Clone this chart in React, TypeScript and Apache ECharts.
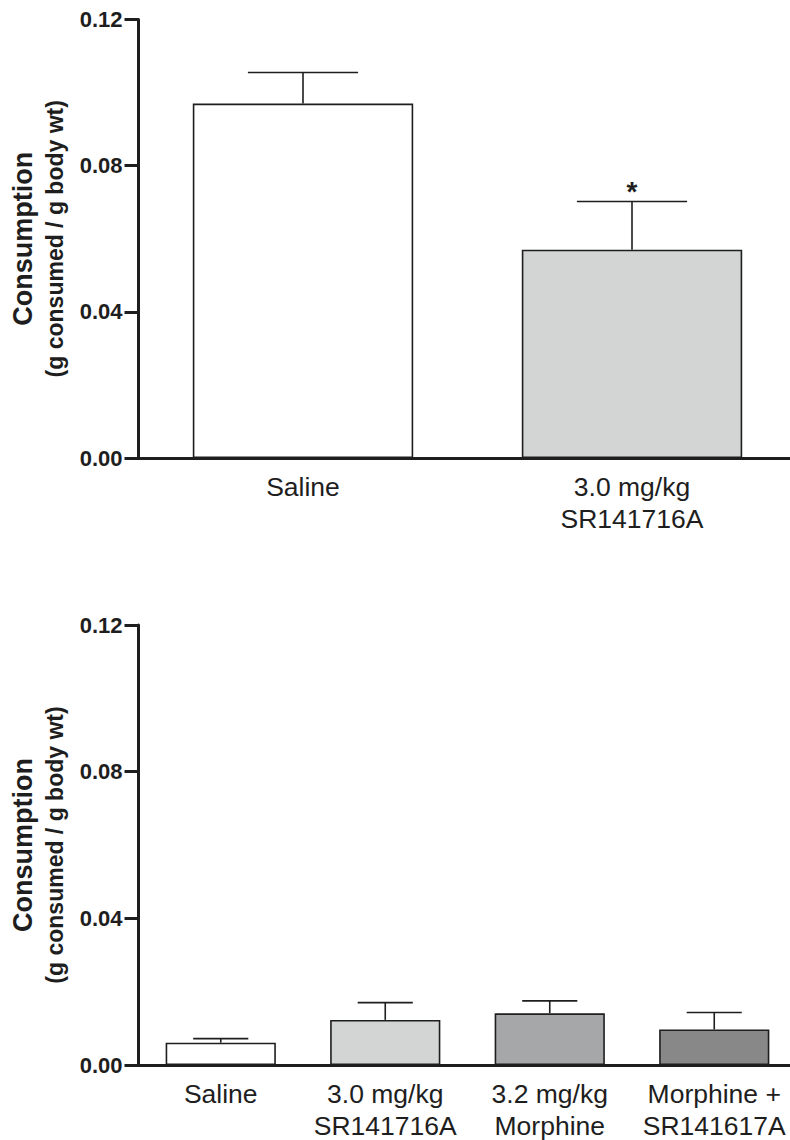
import React, { useEffect, useRef } from "react";
import * as echarts from "echarts";

const topCategories = ["Saline", "3.0 mg/kg\nSR141716A"];
const topMeans = [0.097, 0.057];
const topErrors = [0.0085, 0.0132];
const topColors = ["#ffffff", "#d3d4d4"];
const topMarks = ["", "*"];

const bottomCategories = ["Saline", "3.0 mg/kg\nSR141716A", "3.2 mg/kg\nMorphine", "Morphine +\nSR141617A"];
const bottomMeans = [0.0061, 0.0123, 0.0141, 0.0097];
const bottomErrors = [0.0011, 0.0047, 0.0034, 0.0046];
const bottomColors = ["#ffffff", "#d3d4d4", "#a6a7a8", "#878887"];
const bottomMarks = ["", "", "", ""];

const yTicks = [0, 0.04, 0.08, 0.12];
const yTitle = "Consumption";
const ySubtitle = "(g consumed / g body wt)";

const FONT = "'Liberation Sans', Arial, sans-serif";
const INK = "#1e1e1e";
const BAR_FRAC = 0.67;

function errorSeries(means: number[], errors: number[], marks: string[], idx: number) {
  return {
    type: "custom",
    xAxisIndex: idx,
    yAxisIndex: idx,
    z: 5,
    data: means.map((m, i) => [i, m, errors[i]]),
    encode: { x: 0, y: 1 },
    renderItem: (params: any, api: any) => {
      const i = api.value(0);
      const m = api.value(1);
      const e = api.value(2);
      const base = api.coord([i, m]);
      const top = api.coord([i, m + e]);
      const half = (api.size([1, 0])[0] * BAR_FRAC) / 4;
      const style = { stroke: INK, lineWidth: 1.6 };
      const children: any[] = [
        { type: "line", shape: { x1: base[0], y1: base[1], x2: top[0], y2: top[1] }, style },
        { type: "line", shape: { x1: top[0] - half, y1: top[1], x2: top[0] + half, y2: top[1] }, style },
      ];
      const mark = marks[params.dataIndex];
      if (mark) {
        children.push({
          type: "text",
          x: top[0],
          y: top[1] + 4,
          style: {
            text: mark,
            font: `bold 28px ${FONT}`,
            fill: INK,
            align: "center",
            verticalAlign: "bottom",
          },
        });
      }
      return { type: "group", children };
    },
  };
}

function barSeries(means: number[], colors: string[], idx: number) {
  return {
    type: "bar",
    xAxisIndex: idx,
    yAxisIndex: idx,
    barWidth: `${BAR_FRAC * 100}%`,
    z: 3,
    data: means.map((m, i) => ({
      value: m,
      itemStyle: { color: colors[i], borderColor: INK, borderWidth: 1.6 },
    })),
  };
}

function xAxis(categories: string[], idx: number) {
  return {
    type: "category",
    gridIndex: idx,
    data: categories,
    axisLine: { lineStyle: { color: INK, width: 3 } },
    axisTick: { alignWithLabel: true, length: 8, lineStyle: { color: INK, width: 3 } },
    axisLabel: {
      interval: 0,
      color: INK,
      fontFamily: FONT,
      fontSize: 26.5,
      lineHeight: 32,
      margin: 13,
      hideOverlap: false,
    },
  };
}

function yAxis(idx: number) {
  return {
    type: "value",
    gridIndex: idx,
    min: yTicks[0],
    max: yTicks[yTicks.length - 1],
    interval: yTicks[1] - yTicks[0],
    splitLine: { show: false },
    axisLine: { show: true, lineStyle: { color: INK, width: 3 } },
    axisTick: { show: true, length: 14, lineStyle: { color: INK, width: 3 } },
    axisLabel: {
      color: INK,
      fontFamily: FONT,
      fontSize: 22,
      fontWeight: "bold",
      margin: 16,
      formatter: (v: number) => v.toFixed(2),
    },
    name: `{a|${yTitle}}\n{b|${ySubtitle}}`,
    nameLocation: "middle",
    nameRotate: 90,
    nameGap: 68,
    nameTextStyle: {
      rich: {
        a: { fontFamily: FONT, fontSize: 27, fontWeight: "bold", color: INK, lineHeight: 32 },
        b: { fontFamily: FONT, fontSize: 23, fontWeight: "bold", color: INK, lineHeight: 32 },
      },
    },
  };
}

export default function App() {
  const ref = useRef<HTMLDivElement>(null);
  useEffect(() => {
    document.body.style.margin = "0";
    const chart = echarts.init(ref.current!, null, { renderer: "svg" });
    chart.setOption({
      animation: false,
      backgroundColor: "#ffffff",
      grid: [
        { left: 138.5, top: 19.5, width: 658, height: 438.5, containLabel: false, outerBoundsMode: "none" },
        { left: 138.5, top: 625, width: 658, height: 440, containLabel: false, outerBoundsMode: "none" },
      ],
      xAxis: [xAxis(topCategories, 0), xAxis(bottomCategories, 1)],
      yAxis: [yAxis(0), yAxis(1)],
      series: [
        barSeries(topMeans, topColors, 0),
        errorSeries(topMeans, topErrors, topMarks, 0),
        barSeries(bottomMeans, bottomColors, 1),
        errorSeries(bottomMeans, bottomErrors, bottomMarks, 1),
      ],
    });
    return () => chart.dispose();
  }, []);
  return <div ref={ref} style={{ width: 790, height: 1140 }} />;
}
